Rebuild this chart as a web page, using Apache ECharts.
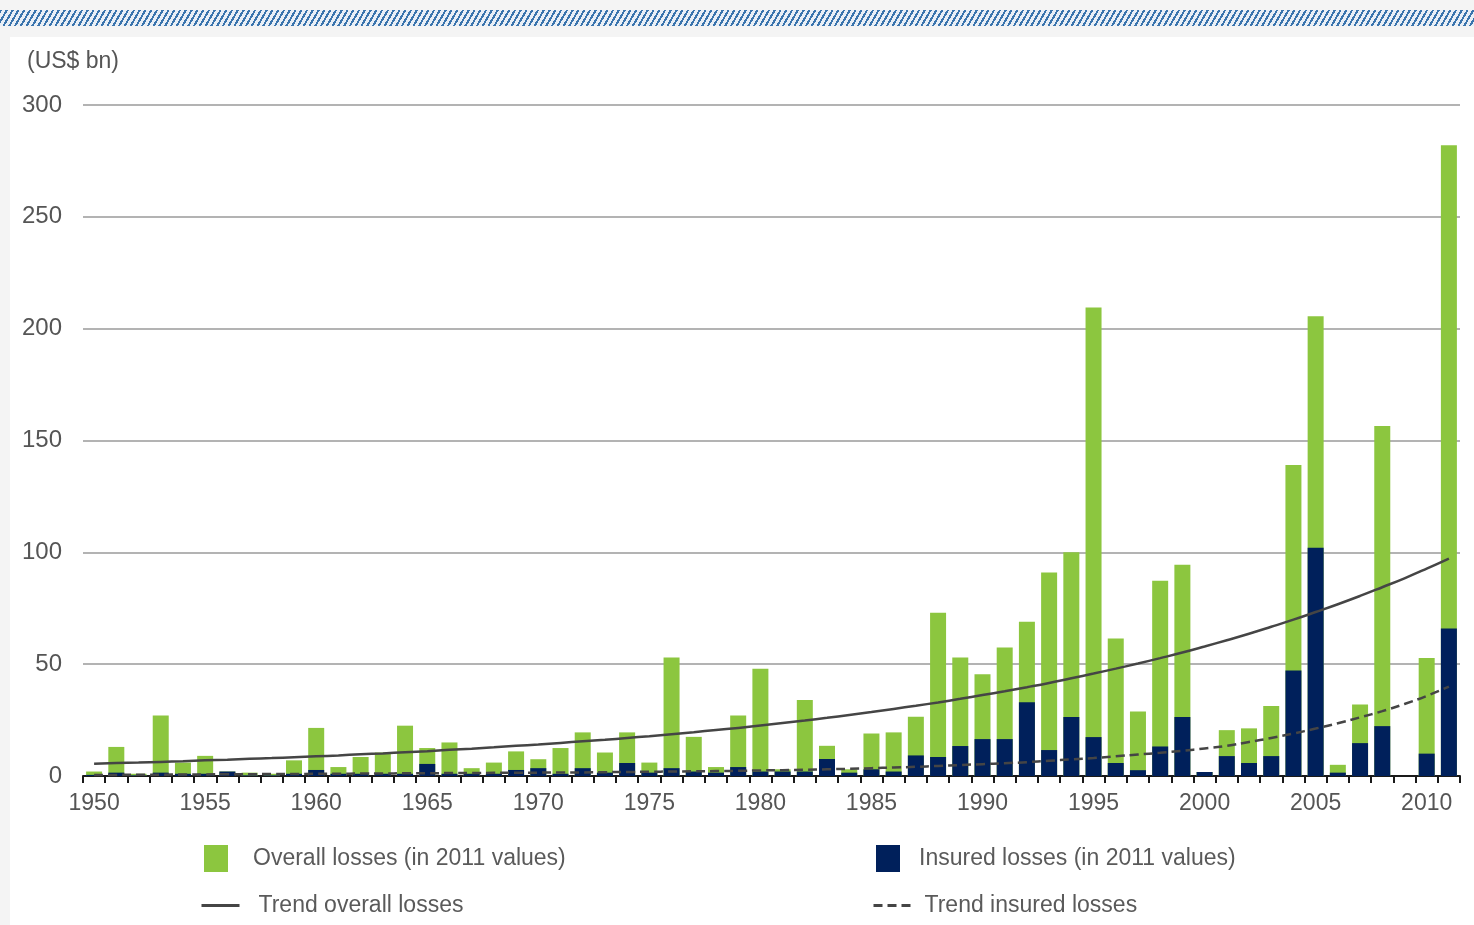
<!DOCTYPE html>
<html>
<head>
<meta charset="utf-8">
<script src="https://cdn.jsdelivr.net/npm/echarts@6/dist/echarts.min.js"></script>
<style>
  html, body { margin: 0; padding: 0; background: #f4f4f4; }
  #strip { position: absolute; left: 0; top: 10px; width: 1474px; height: 16px;
    background: repeating-linear-gradient(120deg, #3a74ad 0px, #3a74ad 2px, #e9eff6 2px, #e9eff6 5px); }
  #panel { position: absolute; left: 10px; top: 37px; width: 1464px; height: 888px; background: #ffffff; }
  #chart { position: absolute; left: 0; top: 0; width: 1474px; height: 925px; }
</style>
</head>
<body>
<div id="strip"></div>
<div id="panel"></div>
<div id="chart"></div>
<script>
const years = ['1950','1951','1952','1953','1954','1955','1956','1957','1958','1959',
  '1960','1961','1962','1963','1964','1965','1966','1967','1968','1969',
  '1970','1971','1972','1973','1974','1975','1976','1977','1978','1979',
  '1980','1981','1982','1983','1984','1985','1986','1987','1988','1989',
  '1990','1991','1992','1993','1994','1995','1996','1997','1998','1999',
  '2000','2001','2002','2003','2004','2005','2006','2007','2008','2009',
  '2010','2011'];

const overallLosses = [2,13,1,27,6,9,2,1.5,1,7,
  21.5,4,8.5,10.5,22.5,12.5,15,3.5,6,11,
  7.5,12.5,19.5,10.5,19.5,6,53,17.5,4,27,
  48,3,34,13.5,3,19,19.5,26.5,73,53,
  45.5,57.5,69,91,100,209.5,61.5,28.8,87.3,94.5,
  1.8,20.5,21.3,31.3,139,205.5,5,32,156.5,0,
  52.8,282];

const insuredLosses = [0.5,1.5,0.3,1.5,1,1,2,0.3,0.3,1,
  2.7,1,1,1,1,5.4,1,1,1,2.7,
  3.5,1,3.5,1.5,5.8,1.5,3.5,2,1.5,4,
  2,2,2,7.6,1.5,3,2,9.2,8.5,13.4,
  16.5,16.5,33,11.6,26.4,17.4,5.8,2.6,13.2,26.4,
  1.8,8.9,5.8,8.9,47.2,102,1.5,14.7,22.3,0,
  10,66];

const trendOverall = [5.5,5.8,6.0,6.3,6.6,7.0,7.3,7.7,8.0,8.4,
  8.8,9.2,9.7,10.1,10.6,11.1,11.7,12.2,12.8,13.5,
  14.1,14.8,15.5,16.2,17.0,17.8,18.7,19.6,20.6,21.5,
  22.6,23.7,24.8,26.0,27.3,28.6,30.0,31.4,32.9,34.5,
  36.2,37.9,39.7,41.6,43.7,45.8,48.0,50.3,52.7,55.2,
  57.9,60.7,63.6,66.7,69.9,73.3,76.8,80.5,84.4,88.4,
  92.7,97.2];

const trendInsured = [0.5,0.5,0.6,0.6,0.7,0.7,0.8,0.8,0.9,0.9,
  1.0,1.0,1.1,1.1,1.2,1.2,1.3,1.3,1.4,1.4,
  1.5,1.6,1.6,1.7,1.8,1.9,2.0,2.1,2.2,2.3,
  2.5,2.6,2.8,3.0,3.2,3.5,3.8,4.1,4.5,4.9,
  5.3,5.7,6.2,6.8,7.4,8.0,8.8,9.6,10.4,11.3,
  12.3,13.5,15.2,17.0,19.0,21.2,23.6,26.2,29.0,32.2,
  35.8,40.0];

const yTicks = { min: 0, max: 300, interval: 50 };

const names = {
  overall: 'Overall losses (in 2011 values)',
  insured: 'Insured losses (in 2011 values)',
  tOverall: 'Trend overall losses',
  tInsured: 'Trend insured losses'
};

const GREEN = '#8cc63f';
const NAVY = '#00205b';
const TREND = '#454545';
const FONT = "'Liberation Sans', Arial, sans-serif";
const legendText = { fontFamily: FONT, fontSize: 23, color: '#5a5a5a' };

const chart = echarts.init(document.getElementById('chart'), null, { renderer: 'canvas' });

chart.setOption({
  backgroundColor: 'transparent',
  animation: false,
  title: {
    text: '(US$ bn)', left: 27, top: 50, padding: 0,
    textStyle: { fontFamily: FONT, fontSize: 23, fontWeight: 'normal', color: '#555555' }
  },
  legend: [
    { data: [{ name: names.overall, icon: 'rect' }], left: 204, top: 845, padding: 0, itemWidth: 24, itemHeight: 27,
      selectedMode: false, textStyle: Object.assign({ padding: [0, 0, 0, 20] }, legendText) },
    { data: [{ name: names.insured, icon: 'rect' }], left: 876, top: 845, padding: 0, itemWidth: 24, itemHeight: 27,
      selectedMode: false, textStyle: Object.assign({ padding: [0, 0, 0, 14] }, legendText) },
    { data: [names.tOverall], left: 200, top: 894, padding: 0, itemWidth: 38, itemHeight: 22,
      selectedMode: false, itemStyle: { opacity: 0 }, lineStyle: { width: 3 },
      textStyle: Object.assign({ padding: [0, 0, 0, 14] }, legendText) },
    { data: [names.tInsured], left: 872, top: 894, padding: 0, itemWidth: 38, itemHeight: 22,
      selectedMode: false, itemStyle: { opacity: 0 }, lineStyle: { width: 3 },
      textStyle: Object.assign({ padding: [0, 0, 0, 8] }, legendText) }
  ],
  grid: { left: 83, right: 14, top: 105, bottom: 149, containLabel: false },
  xAxis: {
    type: 'category',
    data: years,
    boundaryGap: true,
    axisLine: { lineStyle: { color: '#1a1a1a', width: 2 } },
    axisTick: { show: true, interval: 0, alignWithLabel: false, length: 7,
      lineStyle: { color: '#1a1a1a', width: 2 } },
    axisLabel: {
      interval: function (i) { return i % 5 === 0; },
      margin: 16, fontFamily: FONT, fontSize: 23, color: '#555555'
    },
    splitLine: { show: false }
  },
  yAxis: {
    type: 'value',
    min: yTicks.min, max: yTicks.max, interval: yTicks.interval,
    axisLine: { show: false },
    axisTick: { show: false },
    axisLabel: { margin: 21, fontFamily: FONT, fontSize: 24, color: '#555555' },
    splitLine: { lineStyle: { color: '#9a9a9a', width: 1.5 } }
  },
  series: [
    { name: names.overall, type: 'bar', data: overallLosses, barWidth: 16, barGap: '-100%',
      itemStyle: { color: GREEN }, z: 2 },
    { name: names.insured, type: 'bar', data: insuredLosses, barWidth: 16, barGap: '-100%',
      itemStyle: { color: NAVY }, z: 3 },
    { name: names.tOverall, type: 'line', data: trendOverall, symbol: 'none', smooth: true,
      lineStyle: { color: TREND, width: 2.5 }, itemStyle: { color: TREND }, z: 5 },
    { name: names.tInsured, type: 'line', data: trendInsured, symbol: 'none', smooth: true,
      lineStyle: { color: TREND, width: 2.5, type: [9, 5] }, itemStyle: { color: TREND }, z: 5 }
  ]
});
</script>
</body>
</html>
